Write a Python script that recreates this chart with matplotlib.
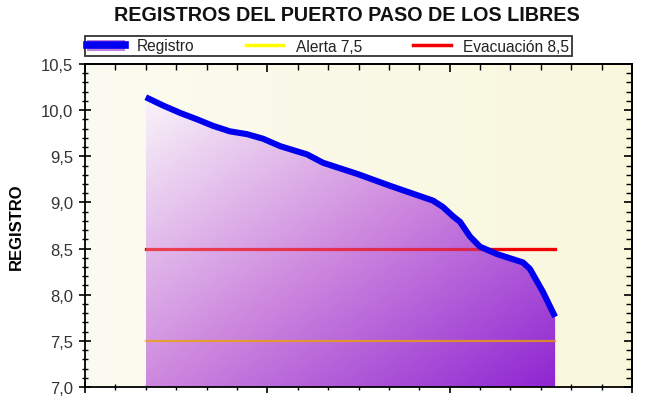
import numpy as np
import matplotlib
matplotlib.use("Agg")
import matplotlib.pyplot as plt
from matplotlib.colors import LinearSegmentedColormap
from matplotlib.lines import Line2D
from matplotlib.patches import Rectangle
from matplotlib.legend_handler import HandlerTuple
from matplotlib.ticker import MultipleLocator, FuncFormatter

plt.rcParams['font.family'] = ['Liberation Sans', 'DejaVu Sans']

# posicion horizontal de cada lectura (sin etiquetas en el eje x)
tiempo = [2.0, 2.57, 3.13, 3.69, 4.21, 4.77, 5.33, 5.86, 6.42, 7.31, 7.83, 8.95,
          10.04, 10.92, 11.45, 11.78, 12.11, 12.34, 12.67, 13.0, 13.56, 14.41,
          14.64, 15.07, 15.47]
registro = [10.14, 10.05, 9.97, 9.90, 9.83, 9.77, 9.74, 9.69, 9.61, 9.52, 9.43, 9.31,
            9.18, 9.08, 9.02, 8.95, 8.85, 8.79, 8.63, 8.52, 8.44, 8.35,
            8.28, 8.03, 7.76]
alerta = 7.5
evacuacion = 8.5
y_min, y_max = 7.0, 10.5
x_min, x_max = 0, 18

fig = plt.figure(figsize=(6.5, 4.1), dpi=100)
fig.patch.set_facecolor('white')
ax = fig.add_axes([85 / 650, 22 / 410, 547 / 650, 323 / 410])
ax.set_xlim(x_min, x_max)
ax.set_ylim(y_min, y_max)

# fondo amarillento con leve degradado
bg_cmap = LinearSegmentedColormap.from_list('bg', ['#FBFBF1', '#F9F7DC'])
ax.imshow(np.linspace(0, 1, 256).reshape(1, -1), cmap=bg_cmap, aspect='auto',
          extent=[x_min, x_max, y_min, y_max], zorder=0, interpolation='bicubic')

# linea de evacuacion debajo del relleno
ax.plot([tiempo[0], tiempo[-1]], [evacuacion, evacuacion], color='#F00000', lw=2.3, zorder=2)

# relleno en degradado bajo la curva
x = np.array(tiempo)
y = np.array(registro)
fill = ax.fill_between(x, y, y_min, facecolor='none', edgecolor='none', zorder=3)
xx, yy = np.meshgrid(np.linspace(0, 1, 300), np.linspace(0, 1, 300))
grad = (xx + yy) / 2
fill_cmap = LinearSegmentedColormap.from_list(
    'fill', [(0.0, '#F9F4F9'), (0.5, '#CD88DE'), (1.0, '#8F26D2')])
im = ax.imshow(grad, cmap=fill_cmap, aspect='auto', origin='upper',
               extent=[x.min(), x.max(), y_min, y.max()], zorder=3,
               interpolation='bicubic')
im.set_clip_path(fill.get_paths()[0], transform=ax.transData)

ax.plot([tiempo[0], tiempo[-1]], [evacuacion, evacuacion], color='#F00000', lw=2.3,
        alpha=0.65, zorder=4)
ax.plot([tiempo[0], tiempo[-1]], [alerta, alerta], color='#F0A000', lw=1.6,
        alpha=0.75, zorder=4)

ax.plot(x, y, color='#0000EE', lw=4.4, solid_capstyle='butt', zorder=5)

# ejes y marcas
for s in ax.spines.values():
    s.set_linewidth(1.3)
    s.set_zorder(6)
ax.xaxis.set_major_locator(MultipleLocator(6))
ax.xaxis.set_minor_locator(MultipleLocator(1))
ax.yaxis.set_major_locator(MultipleLocator(0.5))
ax.yaxis.set_minor_locator(MultipleLocator(0.1))
ax.yaxis.set_major_formatter(FuncFormatter(lambda v, p: f"{v:.1f}".replace('.', ',')))
ax.tick_params(axis='x', which='both', labelbottom=False, direction='inout')
ax.tick_params(axis='y', which='both', direction='inout')
ax.tick_params(which='major', length=9, width=1.2, color='black')
ax.tick_params(which='minor', length=5, width=1.0, color='black')
ax.tick_params(axis='y', labelsize=12, labelcolor='#333333', pad=4)

# marcas interiores arriba y a la derecha
top = ax.secondary_xaxis('top')
top.xaxis.set_major_locator(MultipleLocator(6))
top.xaxis.set_minor_locator(MultipleLocator(1))
top.tick_params(which='both', direction='in', labeltop=False)
top.tick_params(which='major', length=6, width=1.2)
top.tick_params(which='minor', length=4, width=1.0)
right = ax.secondary_yaxis('right')
right.yaxis.set_major_locator(MultipleLocator(0.5))
right.yaxis.set_minor_locator(MultipleLocator(0.1))
right.tick_params(which='both', direction='in', labelright=False)
right.tick_params(which='major', length=6, width=1.2)
right.tick_params(which='minor', length=4, width=1.0)
for sec in (top, right):
    for s in sec.spines.values():
        s.set_linewidth(1.3)

ax.set_ylabel('REGISTRO', fontsize=12, fontweight='bold', labelpad=12)

fig.text(0.533, 0.962, 'REGISTROS DEL PUERTO PASO DE LOS LIBRES', ha='center', va='center',
         fontsize=14.2, fontweight='bold', color='#111111')

# leyenda
h_reg = (Rectangle((0, 0), 1, 1, facecolor='#C080E0', edgecolor='none'),
         Line2D([], [], color='#0000EE', lw=5.5))
h_ale = Line2D([], [], color='#FFFF00', lw=2.5)
h_eva = Line2D([], [], color='#F00000', lw=2.5)
leg = fig.legend([h_reg, h_ale, h_eva], ['Registro', 'Alerta 7,5', 'Evacuación 8,5'],
                 handler_map={tuple: HandlerTuple(ndivide=1, pad=0)},
                 loc='center left', bbox_to_anchor=(85 / 650, 1 - 47 / 410), ncol=3,
                 fontsize=11.2, frameon=True, fancybox=False, edgecolor='black',
                 handlelength=2.4, handletextpad=0.8, columnspacing=3.3,
                 borderpad=0.15, borderaxespad=0)
leg.get_frame().set_linewidth(1.3)
for t in leg.get_texts():
    t.set_color('#222222')

fig.savefig('out.png', dpi=100)
